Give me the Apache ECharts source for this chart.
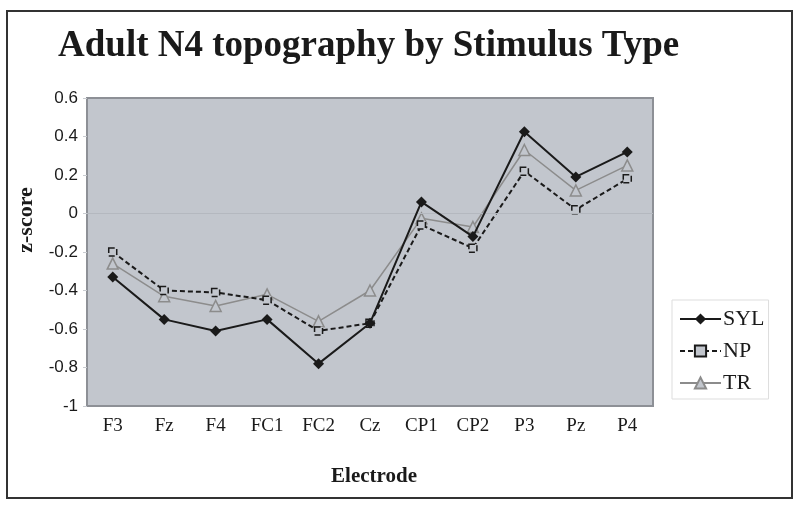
<!DOCTYPE html>
<html>
<head>
<meta charset="utf-8">
<script src="https://cdn.jsdelivr.net/npm/echarts@6/dist/echarts.min.js"></script>
<style>
  html, body { margin: 0; padding: 0; background: #ffffff; }
  #chart { width: 800px; height: 508px; }
</style>
</head>
<body>
<div id="chart"></div>
<script>
const categories = ['F3', 'Fz', 'F4', 'FC1', 'FC2', 'Cz', 'CP1', 'CP2', 'P3', 'Pz', 'P4'];
const sylValues = [-0.33, -0.55, -0.61, -0.55, -0.78, -0.57, 0.06, -0.12, 0.425, 0.19, 0.32];
const npValues  = [-0.20, -0.40, -0.41, -0.45, -0.61, -0.57, -0.06, -0.18, 0.22, 0.02, 0.18];
const trValues  = [-0.26, -0.43, -0.48, -0.42, -0.56, -0.40, -0.025, -0.07, 0.33, 0.12, 0.25];
const yTicks = { min: -1, max: 0.6, interval: 0.2 };

const serif = '"Liberation Serif", "Times New Roman", serif';
const sans = '"Liberation Sans", Arial, sans-serif';

const chart = echarts.init(document.getElementById('chart'), null, { renderer: 'canvas' });
chart.setOption({
  animation: false,
  backgroundColor: '#ffffff',
  title: {
    text: 'Adult N4 topography by Stimulus Type',
    left: 53,
    top: 23,
    textStyle: { fontFamily: serif, fontWeight: 'bold', fontSize: 37, color: '#1a1a1a' }
  },
  graphic: [
    {
      type: 'rect',
      shape: { x: 7, y: 11, width: 785, height: 487 },
      style: { fill: 'none', stroke: '#333333', lineWidth: 2 },
      z: 100
    },
    {
      type: 'text',
      x: 26,
      y: 220,
      rotation: Math.PI / 2,
      style: {
        text: 'z-score',
        font: 'bold 22px ' + serif,
        fill: '#1a1a1a',
        align: 'center',
        verticalAlign: 'middle'
      }
    }
  ],
  legend: {
    orient: 'vertical',
    left: 672,
    top: 300,
    padding: [8, 4, 5, 7],
    itemWidth: 41,
    itemHeight: 14,
    itemGap: 10,
    borderColor: '#dddddd',
    borderWidth: 1,
    textStyle: { fontFamily: serif, fontSize: 22, color: '#1a1a1a', padding: [0, 0, 0, -3] },
    data: ['SYL', 'NP', 'TR']
  },
  grid: {
    left: 87, top: 98, width: 566, height: 308,
    show: true,
    backgroundColor: '#c2c6cd',
    borderColor: '#8d9096',
    borderWidth: 2
  },
  xAxis: {
    type: 'category',
    data: categories,
    boundaryGap: true,
    name: 'Electrode',
    nameLocation: 'middle',
    nameGap: 60,
    nameTextStyle: { fontFamily: serif, fontWeight: 'bold', fontSize: 21, color: '#1a1a1a', padding: [0, 0, 0, 8] },
    axisLine: { show: false },
    axisTick: { show: false },
    axisLabel: { fontFamily: serif, fontSize: 19, color: '#1a1a1a', margin: 11, interval: 0 },
    splitLine: { show: false }
  },
  yAxis: {
    type: 'value',
    min: yTicks.min,
    max: yTicks.max,
    interval: yTicks.interval,
    axisLine: { show: false },
    axisTick: { show: true, length: 4, lineStyle: { color: '#c8cbd0' } },
    axisLabel: {
      fontFamily: sans, fontSize: 17, color: '#1a1a1a', margin: 9,
      formatter: v => String(Math.round(v * 10) / 10)
    },
    splitLine: { show: false }
  },
  series: [
    {
      name: 'SYL',
      type: 'line',
      data: sylValues,
      symbol: 'diamond',
      symbolSize: 11,
      itemStyle: { color: '#1a1a1a' },
      lineStyle: { color: '#1a1a1a', width: 2 },
      z: 5,
      markLine: {
        silent: true,
        symbol: 'none',
        label: { show: false },
        lineStyle: { color: '#b4b8bf', width: 1, type: 'solid' },
        data: [{ yAxis: 0 }]
      }
    },
    {
      name: 'NP',
      type: 'line',
      data: npValues,
      symbol: 'rect',
      symbolSize: 8,
      itemStyle: { color: '#c2c6cd', borderColor: '#1a1a1a', borderWidth: 1.5, borderType: 'dashed' },
      lineStyle: { color: '#1a1a1a', width: 2, type: [5, 3] },
      z: 4
    },
    {
      name: 'TR',
      type: 'line',
      data: trValues,
      symbol: 'triangle',
      symbolSize: 11,
      itemStyle: { color: '#c2c6cd', borderColor: '#8c8c8c', borderWidth: 1.5 },
      lineStyle: { color: '#8c8c8c', width: 1.5 },
      z: 3
    }
  ]
});
</script>
</body>
</html>
